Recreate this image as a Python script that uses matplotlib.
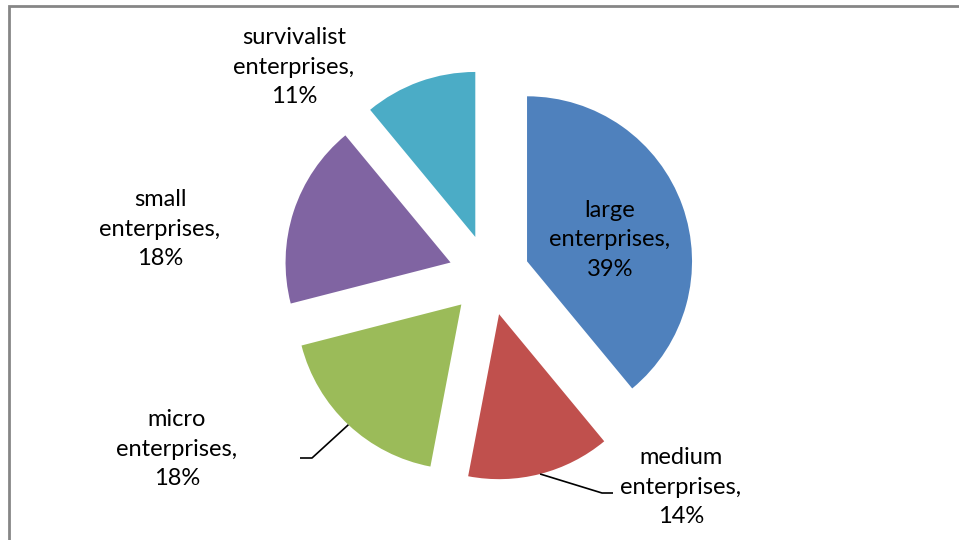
import matplotlib
matplotlib.use("Agg")
import matplotlib.pyplot as plt
from matplotlib.patches import Rectangle
import numpy as np

categories = ["large\nenterprises,", "medium\nenterprises,", "micro\nenterprises,",
              "small\nenterprises,", "survivalist\nenterprises,"]
values = [39, 14, 18, 18, 11]
colors = ["#4F81BD", "#C0504D", "#9BBB59", "#8064A2", "#4BACC6"]

W, H = 959, 540
fig = plt.figure(figsize=(W / 100, H / 100), dpi=100)
ax = fig.add_axes([0, 0, 1, 1])

cx, cy, R = 489, H - 275, 165
explode_frac = 0.245
# matplotlib's explode offset is in data units, so scale by radius
explode = [explode_frac * R] * len(values)
wedges, _ = ax.pie(values, colors=colors, startangle=90, counterclock=False,
                   explode=explode, center=(cx, cy), radius=R,
                   wedgeprops=dict(linewidth=0))
ax.set_xlim(0, W)
ax.set_ylim(0, H)
ax.set_aspect("equal")
ax.axis("off")

# label positions (image pixel centres), with optional leader line endpoints
label_pos = [(610, 240), (681, 487), (177, 449), (160, 229), (294, 67)]
leaders = {1: [(602, 493), (613, 493)], 2: [(312, 458), (300, 458)]}

for i, (w, txt, v) in enumerate(zip(wedges, categories, values)):
    x, y = label_pos[i]
    ax.text(x, H - y, f"{txt}\n{v}%", ha="center", va="center",
            fontsize=17, family="Lato", color="black", linespacing=1.52)
    if i in leaders:
        mid = np.deg2rad((w.theta1 + w.theta2) / 2)
        ax0 = w.center[0] + w.r * np.cos(mid)
        ay0 = w.center[1] + w.r * np.sin(mid)
        pts = [(ax0, ay0)] + [(px, H - py) for px, py in leaders[i]]
        xs, ys = zip(*pts)
        ax.plot(xs, ys, color="black", lw=1.2, solid_capstyle="butt")

fig.patches.append(Rectangle((9 / W, -0.1), 1.2, (H - 6) / H + 0.1,
                             transform=fig.transFigure, fill=False,
                             edgecolor="#868686", linewidth=2))

fig.savefig("out.png", dpi=100)
